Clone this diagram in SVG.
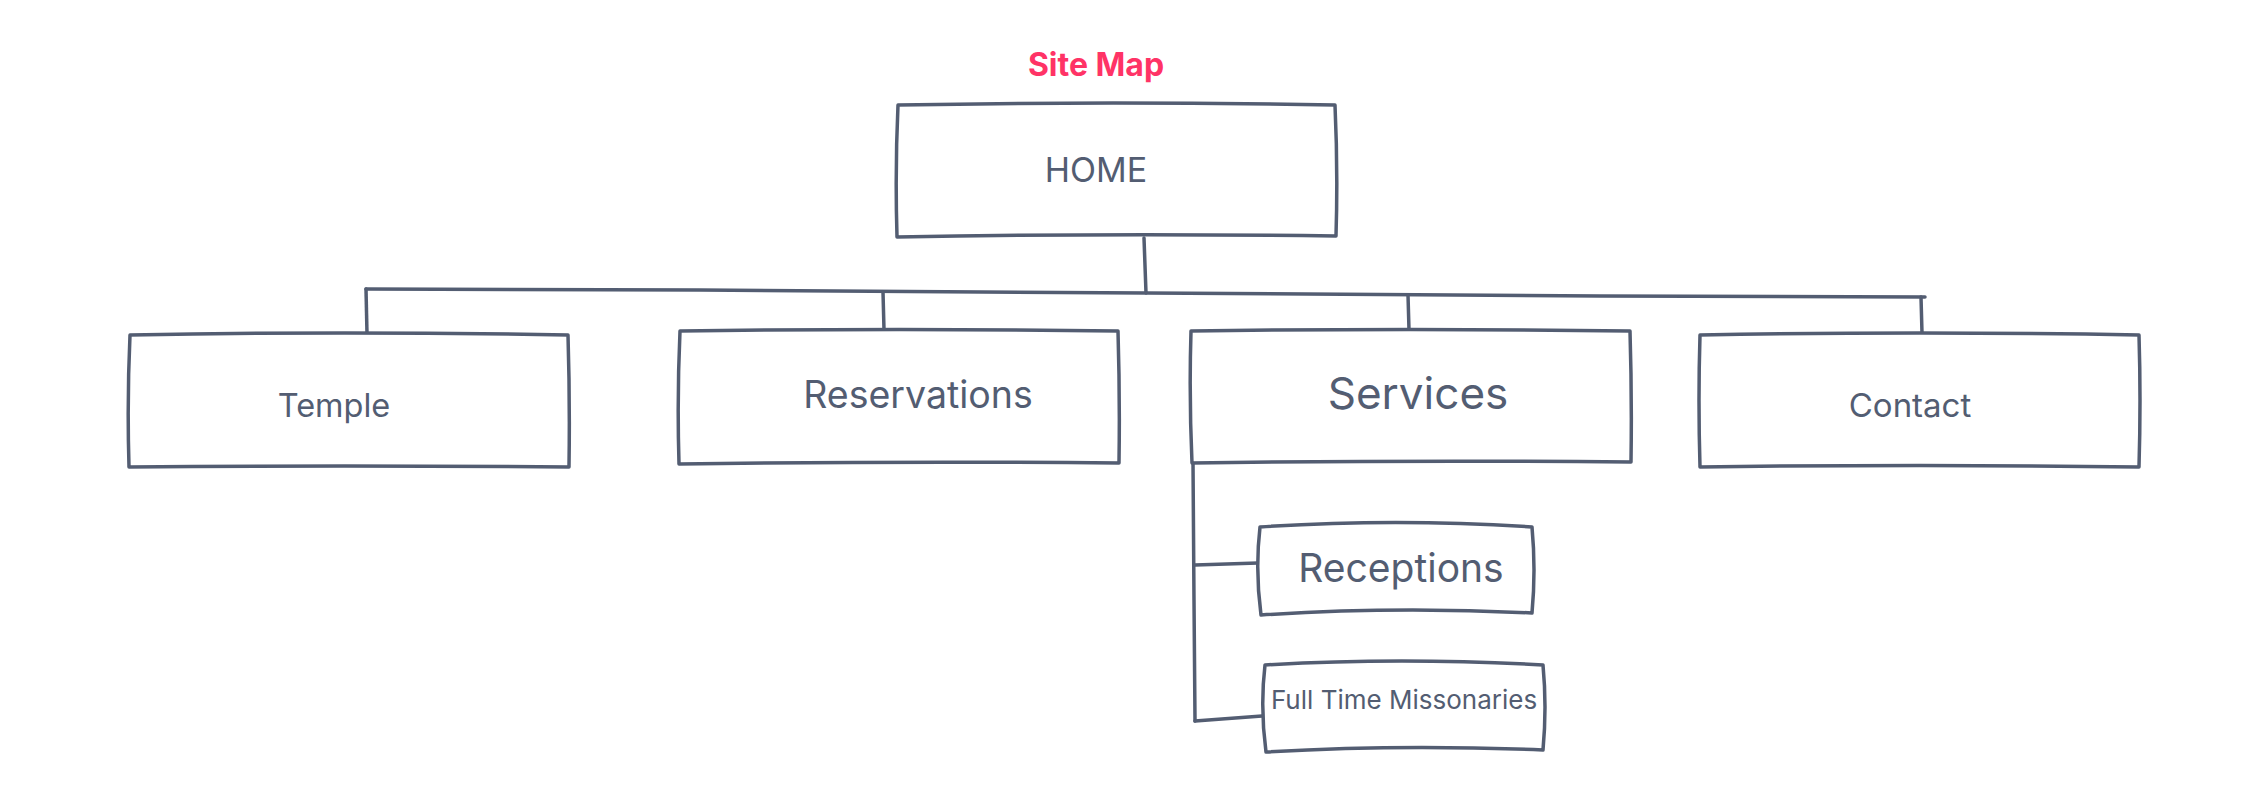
<svg xmlns="http://www.w3.org/2000/svg" width="2268" height="798" viewBox="0 0 2268 798">
<style>
.box{fill:#ffffff;stroke:#535d72;stroke-width:3.5;stroke-linejoin:round;stroke-linecap:round}
.ln{fill:none;stroke:#535d72;stroke-width:3.5;stroke-linecap:round;stroke-linejoin:round}
.lbl{font-family:Inter,"Noto Sans",sans-serif;fill:#535d72;text-anchor:middle}
.title{font-family:Inter,"Noto Sans",sans-serif;font-weight:bold;fill:#ff3366;text-anchor:middle}
</style>
<rect width="2268" height="798" fill="#ffffff"/>
<text class="title" x="1096" y="76" font-size="32">Site Map</text>
<g id="connectors">
<path class="ln" d="M1144 238 L1146 293"/>
<path class="ln" d="M366 289 L700 290 L1146 293 L1600 296 L1925 297"/>
<path class="ln" d="M366 289 L367 334"/>
<path class="ln" d="M883 292 L884 330"/>
<path class="ln" d="M1408 295 L1409 330"/>
<path class="ln" d="M1921 297 L1922 333"/>
<path class="ln" d="M1193 462 L1194 600 L1195 721"/>
<path class="ln" d="M1195 565 L1258 563"/>
<path class="ln" d="M1195 721 L1262 716"/>
</g>
<g id="node-home">
<path class="box" d="M898 105 Q1110 101 1335 105 Q1338 170 1336 236 Q1110 233 897 237 Q895 170 898 105 Z"/>
<text class="lbl" x="1096" y="182" font-size="34">HOME</text>
</g>
<g id="node-temple">
<path class="box" d="M130 335 Q340 331 568 335 Q570 400 569 467 Q340 465 129 467 Q127 400 130 335 Z"/>
<text class="lbl" x="334" y="417" font-size="32.5">Temple</text>
</g>
<g id="node-reservations">
<path class="box" d="M680 331 Q900 328 1118 331 Q1120 397 1119 463 Q900 461 679 464 Q677 397 680 331 Z"/>
<text class="lbl" x="918" y="408" font-size="37.5">Reservations</text>
</g>
<g id="node-services">
<path class="box" d="M1191 331 Q1410 328 1630 331 Q1632 396 1631 462 Q1410 460 1192 463 Q1189 396 1191 331 Z"/>
<text class="lbl" x="1418" y="409" font-size="44">Services</text>
</g>
<g id="node-contact">
<path class="box" d="M1700 335 Q1920 331 2139 335 Q2141 400 2139 467 Q1920 464 1700 467 Q1698 400 1700 335 Z"/>
<text class="lbl" x="1910" y="417" font-size="33">Contact</text>
</g>
<g id="node-receptions">
<path class="box" d="M1260 527 Q1395 518 1532 527 Q1536 570 1532 613 Q1395 606 1261 615 Q1255 570 1260 527 Z"/>
<text class="lbl" x="1401" y="582" font-size="39">Receptions</text>
</g>
<g id="node-missionaries">
<path class="box" d="M1265 665 Q1400 657 1543 665 Q1547 707 1543 750 Q1400 744 1266 752 Q1260 707 1265 665 Z"/>
<text class="lbl" x="1404" y="709" font-size="26">Full Time Missonaries</text>
</g>
</svg>
